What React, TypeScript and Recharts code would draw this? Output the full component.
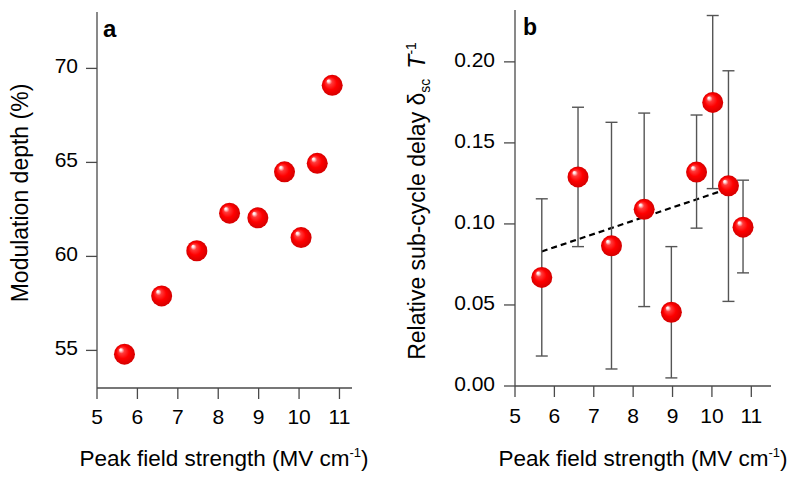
import { ScatterChart, Scatter, XAxis, YAxis, ErrorBar, ReferenceLine } from "recharts";

// panel a: modulation depth vs peak field
const fieldA = [5.68, 6.6, 7.47, 8.28, 8.98, 9.64, 10.05, 10.45, 10.82];
const depthA = [54.8, 57.9, 60.3, 62.3, 62.05, 64.5, 61.0, 64.95, 69.1];

// panel b: relative sub-cycle delay with error bars
const fieldB = [5.68, 6.6, 7.45, 8.28, 8.97, 9.61, 10.02, 10.42, 10.79];
const delayB = [0.067, 0.129, 0.0865, 0.109, 0.0455, 0.132, 0.175, 0.1235, 0.098];
const delayHigh = [0.1155, 0.172, 0.1627, 0.1684, 0.086, 0.1672, 0.2286, 0.1945, 0.127];
const delayLow = [0.0185, 0.086, 0.0105, 0.049, 0.005, 0.0974, 0.1218, 0.0522, 0.0698];

// linear fit (dashed)
const fitX = [5.68, 10.69];
const fitY = [0.083, 0.124];

const fieldTicks = [5, 6, 7, 8, 9, 10, 11];
const depthTicks = [55, 60, 65, 70];
const delayTicks = [0, 0.05, 0.1, 0.15, 0.2];

const dataA = fieldA.map((x, i) => ({ x, y: depthA[i] }));
const dataB = fieldB.map((x, i) => ({
  x,
  y: delayB[i],
  err: [delayB[i] - delayLow[i], delayHigh[i] - delayB[i]],
}));

const FONT = '"Liberation Sans", Arial, sans-serif';
const AXIS = "#4a4a4a";
const tickStyle = { fontSize: 21, fill: "#000", fontFamily: FONT };

const Sphere = (props: any) => {
  const { cx, cy } = props;
  if (cx == null || cy == null) return null;
  return <circle cx={cx} cy={cy} r={10.5} fill="url(#redSphere)" />;
};

export default function App() {
  return (
    <div style={{ position: "absolute", left: 0, top: 0, width: 800, height: 480, background: "#fff" }}>
      <svg width={0} height={0} style={{ position: "absolute" }}>
        <defs>
          <radialGradient id="redSphere" cx="50%" cy="50%" r="50%" fx="30%" fy="27%">
            <stop offset="0%" stopColor="#ffffff" />
            <stop offset="10%" stopColor="#ffe4e4" />
            <stop offset="28%" stopColor="#ff3a3a" />
            <stop offset="60%" stopColor="#ff0000" />
            <stop offset="100%" stopColor="#d40000" />
          </radialGradient>
        </defs>
      </svg>

      <div style={{ position: "absolute", left: 0, top: 0 }}>
        <ScatterChart width={400} height={480} margin={{ top: 12, right: 48, bottom: 52, left: 37 }}>
          <XAxis
            type="number"
            dataKey="x"
            domain={[5, 11.31]}
            ticks={fieldTicks}
            interval={0}
            allowDataOverflow
            height={40}
            tickSize={11}
            tickMargin={10}
            stroke={AXIS}
            strokeWidth={1.3}
            tick={tickStyle}
          />
          <YAxis
            type="number"
            dataKey="y"
            domain={[53, 73]}
            ticks={depthTicks}
            interval={0}
            allowDataOverflow
            width={60}
            tickSize={11}
            tickMargin={8}
            stroke={AXIS}
            strokeWidth={1.3}
            tick={{ ...tickStyle, dy: -3 }}
          />
          <XAxis xAxisId="top" orientation="top" type="number" domain={[5, 11.31]} height={0} tick={false} tickLine={false} stroke={AXIS} strokeWidth={1.3} />
          <YAxis yAxisId="right" orientation="right" type="number" domain={[53, 73]} width={0} tick={false} tickLine={false} stroke={AXIS} strokeWidth={1.3} />
          <Scatter data={dataA} shape={Sphere} isAnimationActive={false} />
        </ScatterChart>
      </div>

      <div style={{ position: "absolute", left: 400, top: 0 }}>
        <ScatterChart width={400} height={480} margin={{ top: 10, right: 29, bottom: 54, left: 55 }}>
          <XAxis
            type="number"
            dataKey="x"
            domain={[5, 11.5]}
            ticks={fieldTicks}
            interval={0}
            allowDataOverflow
            height={40}
            tickSize={11}
            tickMargin={11}
            stroke={AXIS}
            strokeWidth={1.3}
            tick={tickStyle}
          />
          <YAxis
            type="number"
            dataKey="y"
            domain={[0, 0.232]}
            ticks={delayTicks}
            interval={0}
            allowDataOverflow
            width={60}
            tickSize={11}
            tickMargin={9}
            stroke={AXIS}
            strokeWidth={1.3}
            tickFormatter={(v: number) => v.toFixed(2)}
            tick={{ ...tickStyle, dy: -2 }}
          />
          <XAxis xAxisId="top" orientation="top" type="number" domain={[5, 11.5]} height={0} tick={false} tickLine={false} stroke={AXIS} strokeWidth={1.3} />
          <YAxis yAxisId="right" orientation="right" type="number" domain={[0, 0.232]} width={0} tick={false} tickLine={false} stroke={AXIS} strokeWidth={1.3} />
          <ReferenceLine
            segment={[
              { x: fitX[0], y: fitY[0] },
              { x: fitX[1], y: fitY[1] },
            ]}
            stroke="#000"
            strokeWidth={2.2}
            strokeDasharray="6 4"
          />
          <Scatter data={dataB} shape={Sphere} isAnimationActive={false}>
            <ErrorBar dataKey="err" direction="y" width={6} stroke="#555" strokeWidth={1.4} isAnimationActive={false} />
          </Scatter>
        </ScatterChart>
      </div>

      <svg
        width={800}
        height={480}
        style={{ position: "absolute", left: 0, top: 0, pointerEvents: "none" }}
        fontFamily={FONT}
      >
        <text x={103} y={37} fontSize={24} fontWeight="bold" fill="#000">a</text>
        <text x={523} y={35} fontSize={23} fontWeight="bold" fill="#000">b</text>

        <text x={224} y={466} fontSize={22.5} textAnchor="middle" fill="#000">
          Peak field strength (MV cm<tspan fontSize={13} dy={-9}>-1</tspan>
          <tspan dy={9}>)</tspan>
        </text>
        <text x={643} y={466} fontSize={22.5} textAnchor="middle" fill="#000">
          Peak field strength (MV cm<tspan fontSize={13} dy={-9}>-1</tspan>
          <tspan dy={9}>)</tspan>
        </text>

        <text transform="translate(28,193) rotate(-90)" fontSize={23} textAnchor="middle" fill="#000">
          Modulation depth (%)
        </text>
        <text transform="translate(425,201) rotate(-90)" fontSize={23} textAnchor="middle" fill="#000">
          Relative sub-cycle delay δ<tspan fontSize={14} dy={5}>sc</tspan>
          <tspan dy={-5} dx={10} fontStyle="italic">T</tspan>
          <tspan fontSize={14} dy={-9}>-1</tspan>
        </text>
      </svg>
    </div>
  );
}
